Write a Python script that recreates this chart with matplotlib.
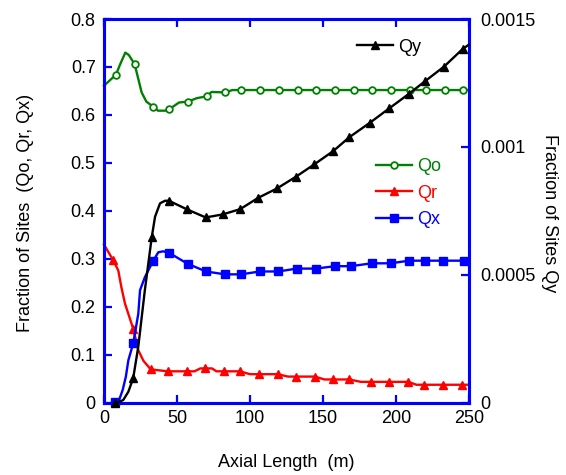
import matplotlib
matplotlib.use("Agg")
import matplotlib.pyplot as plt
from matplotlib.lines import Line2D

plt.rcParams["font.family"] = ["Liberation Sans", "DejaVu Sans"]

# Qo: oxidised site fraction (left axis)
x_qo = [0, 5, 8.2, 11, 14.6, 17, 21, 25.8, 29, 33.8, 37, 42, 44.7, 51.4, 57.7,
        63.5, 70.3, 73.7, 83, 88, 94, 107, 120, 132.7, 145.4, 158, 171, 183.8,
        196.6, 209.4, 220.5, 233.4, 246, 250]
qo = [0.661, 0.675, 0.684, 0.705, 0.730, 0.725, 0.706, 0.647, 0.628, 0.617,
      0.609, 0.609, 0.612, 0.626, 0.628, 0.635, 0.639, 0.648, 0.647, 0.652,
      0.652, 0.652, 0.652, 0.652, 0.652, 0.652, 0.652, 0.652, 0.652, 0.652,
      0.652, 0.652, 0.652, 0.652]
qo_marks = [2, 6, 9, 12, 14, 16, 18] + list(range(20, 33))

# Qr: reduced site fraction (left axis)
x_qr = [0, 6.4, 9.8, 12, 14.4, 20.1, 23.5, 27, 32, 43.6, 56.6, 62, 66, 69.4,
        74, 77, 82.2, 93.2, 100, 105.9, 119, 126, 131.5, 144.5, 151, 157, 168,
        176, 182.7, 195.4, 208.4, 214, 219.2, 232.4, 245, 250]
qr = [0.330, 0.297, 0.276, 0.240, 0.207, 0.154, 0.110, 0.088, 0.070, 0.066,
      0.066, 0.066, 0.072, 0.072, 0.072, 0.066, 0.066, 0.066, 0.060, 0.060,
      0.060, 0.055, 0.055, 0.055, 0.049, 0.049, 0.049, 0.044, 0.044, 0.044,
      0.044, 0.038, 0.038, 0.038, 0.038, 0.038]
qr_marks = [1, 5, 8, 9, 10, 13, 16, 17, 19, 20, 22, 23, 25, 26, 28, 29, 30,
            32, 33, 34]

# Qx: intermediate site fraction (left axis)
x_qx = [7.5, 10, 12.8, 15, 16.7, 20.1, 23.5, 24.7, 28, 33.5, 37.2, 40.6, 44.5,
        57.3, 69.9, 82.9, 93.8, 106.8, 119.4, 132, 145, 158.2, 169, 183.3,
        196.4, 208.9, 219.9, 232.4, 246.6, 250]
qx = [0.002, 0.003, 0.027, 0.055, 0.089, 0.125, 0.186, 0.235, 0.262, 0.295,
      0.314, 0.316, 0.313, 0.290, 0.274, 0.268, 0.268, 0.274, 0.274, 0.280,
      0.280, 0.285, 0.285, 0.291, 0.291, 0.2965, 0.2965, 0.2965, 0.2965,
      0.2965]
qx_marks = [0, 5, 9] + list(range(12, 29))

# Qy: site fraction on the right axis
x_qy = [7.5, 10, 13.2, 16.7, 20, 23.5, 28, 32.7, 35, 38.4, 41.8, 44.5, 56.6,
        69.6, 74.9, 81.5, 93.2, 105.8, 118.5, 131.5, 144, 157, 168, 182.2,
        195.4, 208.7, 219.9, 232.9, 245.7, 250]
qy = [0.0, 0.000003, 0.0000117, 0.000044, 0.0000965, 0.00022, 0.000441,
      0.000647, 0.000728, 0.00078, 0.00079, 0.00079, 0.000757, 0.000725,
      0.00073, 0.000737, 0.000757, 0.000802, 0.000838, 0.000884, 0.000932,
      0.000984, 0.001038, 0.001095, 0.001151, 0.001207, 0.001257, 0.001314,
      0.001383, 0.0014]
qy_marks = [0, 4, 7, 11, 12, 13] + list(range(15, 29))

left_ticks = [0, 0.1, 0.2, 0.3, 0.4, 0.5, 0.6, 0.7, 0.8]
left_labels = ["0", "0.1", "0.2", "0.3", "0.4", "0.5", "0.6", "0.7", "0.8"]
right_ticks = [0, 0.0005, 0.001, 0.0015]
right_labels = ["0", "0.0005", "0.001", "0.0015"]
x_ticks = [0, 50, 100, 150, 200, 250]

GREEN = "#008000"
RED = "#ff0000"
BLUE = "#0000ff"
BLACK = "#000000"
FS = 13


def main():
    fig = plt.figure(figsize=(5.66, 4.75), dpi=100)
    ax = fig.add_axes([0.1837, 0.1516, 0.6449, 0.8084])
    ax2 = ax.twinx()

    ax.plot(x_qo, qo, color=GREEN, lw=1.7, marker="o", ms=4.8, mew=1.3,
            mfc="white", markevery=qo_marks, clip_on=False, zorder=3)
    ax.plot(x_qr, qr, color=RED, lw=1.7, marker="^", ms=5.5,
            markevery=qr_marks, clip_on=False, zorder=3)
    ax.plot(x_qx, qx, color=BLUE, lw=1.7, marker="s", ms=5.5,
            markevery=qx_marks, clip_on=False, zorder=3)
    ax2.plot(x_qy, qy, color=BLACK, lw=1.7, marker="^", ms=5.5,
             markevery=qy_marks, clip_on=False, zorder=3)

    ax.set_xlim(0, 250)
    ax.set_ylim(0, 0.8)
    ax2.set_ylim(0, 0.0015)

    ax.set_xticks(x_ticks)
    ax.set_yticks(left_ticks)
    ax.set_yticklabels(left_labels)
    ax2.set_yticks(right_ticks)
    ax2.set_yticklabels(right_labels)

    ax.tick_params(axis="x", direction="in", length=6, width=1.6, color=BLUE,
                   labelsize=FS, pad=5, top=True)
    ax.tick_params(axis="y", direction="in", length=6, width=1.6, color=BLUE,
                   labelsize=FS, pad=6, right=False)
    ax2.tick_params(axis="y", direction="in", length=6, width=1.6, color=BLUE,
                    labelsize=FS, pad=8)
    for a in (ax, ax2):
        for sp in a.spines.values():
            sp.set_color(BLUE)
            sp.set_linewidth(2.2)

    ax.set_xlabel("Axial Length  (m)", fontsize=FS)
    ax.set_ylabel("Fraction of Sites  (Qo, Qr, Qx)", fontsize=FS)
    ax2.set_ylabel("Fraction of Sites Qy", fontsize=FS, rotation=270)
    for lab in (ax.xaxis.label, ax.yaxis.label, ax2.yaxis.label):
        lab.set_va("center")
        lab.set_ha("center")
    ax.xaxis.set_label_coords(0.5, -0.154)
    ax.yaxis.set_label_coords(-0.216, 0.495)
    ax2.yaxis.set_label_coords(1.22, 0.495)

    # legend for the right-axis series
    h_qy = Line2D([], [], color=BLACK, lw=1.7, marker="^", ms=5.5)
    leg2 = ax2.legend([h_qy], ["Qy"], loc="upper left",
                      bbox_to_anchor=(0.692, 0.949), frameon=False,
                      fontsize=FS, handlelength=2.0, handletextpad=0.3,
                      borderpad=0, borderaxespad=0, numpoints=1)
    for t in leg2.get_texts():
        t.set_color(BLACK)

    # legend for the left-axis series
    h_qo = Line2D([], [], color=GREEN, lw=1.7, marker="o", ms=4.8, mew=1.3,
                  mfc="white")
    h_qr = Line2D([], [], color=RED, lw=1.7, marker="^", ms=5.5)
    h_qx = Line2D([], [], color=BLUE, lw=1.7, marker="s", ms=5.5)
    leg = ax2.legend([h_qo, h_qr, h_qx], ["Qo", "Qr", "Qx"], loc="upper left",
                     bbox_to_anchor=(0.745, 0.637), frameon=False,
                     fontsize=FS, handlelength=2.0, handletextpad=0.3,
                     borderpad=0, borderaxespad=0, labelspacing=0.52,
                     numpoints=1)
    for t, c in zip(leg.get_texts(), [GREEN, RED, BLUE]):
        t.set_color(c)
    ax2.add_artist(leg2)

    fig.savefig("out.png", dpi=100)


if __name__ == "__main__":
    main()
